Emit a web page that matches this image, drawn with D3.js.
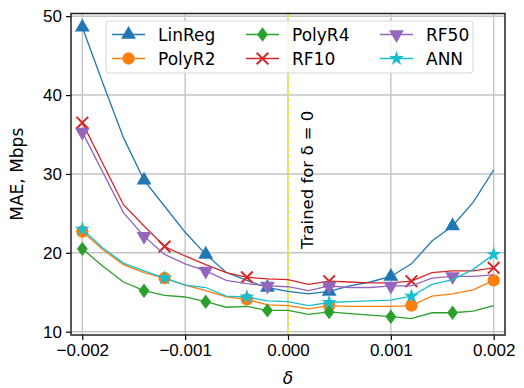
<!DOCTYPE html>
<html lang="en">
<head>
<meta charset="UTF-8" />
<title>MAE vs delta</title>
<script src="https://d3js.org/d3.v7.min.js"></script>
<style>
  * { margin: 0; padding: 0; }
  body { background: #fff; }
  svg { font-family: 'DejaVu Sans', sans-serif; display: block; }
  .grid line { stroke: #c4c4c4; stroke-width: 1.4px; }
  .tick text { font-size: 17px; fill: #000; }
</style>
</head>
<body>
<svg id="chart" width="524" height="388"></svg>
<script>
// delta values, one every 0.0002
const deltas = [-0.002, -0.0018, -0.0016, -0.0014, -0.0012, -0.001, -0.0008, -0.0006, -0.0004, -0.0002,
  0, 0.0002, 0.0004, 0.0006, 0.0008, 0.001, 0.0012, 0.0014, 0.0016, 0.0018, 0.002];

const linReg = [48.6, 41.5, 34.6, 29.2, 25.9, 22.6, 19.8, 17.5, 16.5, 15.6,
  15.1, 14.8, 15.1, 15.8, 16.3, 17.0, 18.6, 21.5, 23.4, 26.4, 30.5];
const polyR2 = [22.7, 20.4, 18.5, 17.5, 16.8, 15.9, 15.2, 14.4, 14.1, 13.4,
  13.3, 12.9, 13.3, 13.2, 13.2, 13.2, 13.3, 14.5, 14.8, 15.3, 16.5];
const polyR4 = [20.5, 18.3, 16.3, 15.2, 14.6, 14.4, 13.8, 13.1, 13.2, 12.7,
  12.7, 12.2, 12.5, 12.3, 12.1, 11.9, 11.65, 12.4, 12.4, 12.6, 13.3];
const rf10 = [36.5, 31.3, 26.1, 23.4, 20.8, 19.6, 18.5, 17.5, 16.9, 16.7,
  16.6, 16.0, 16.4, 16.3, 16.2, 16.2, 16.4, 17.5, 17.7, 17.7, 18.1];
const rf50 = [35.3, 30.2, 25.1, 22.1, 19.8, 18.6, 17.7, 16.5, 16.1, 15.8,
  15.7, 15.2, 15.8, 15.6, 15.6, 15.8, 15.8, 16.8, 17.0, 17.0, 17.2];
const ann = [23.0, 20.6, 18.7, 17.7, 16.8, 15.9, 15.6, 14.5, 14.4, 13.9,
  13.8, 13.3, 13.7, 13.8, 13.9, 14.0, 14.5, 16.0, 16.6, 17.9, 19.8];

const xTicks = [-0.002, -0.001, 0, 0.001, 0.002];
const yTicks = [10, 20, 30, 40, 50];

const series = [
  { name: 'LinReg', values: linReg, color: '#1f77b4', marker: 'up', every: 3 },
  { name: 'PolyR2', values: polyR2, color: '#ff7f0e', marker: 'circle', every: 4 },
  { name: 'PolyR4', values: polyR4, color: '#2ca02c', marker: 'diamond', every: 3 },
  { name: 'RF10', values: rf10, color: '#d62728', marker: 'x', every: 4 },
  { name: 'RF50', values: rf50, color: '#9467bd', marker: 'down', every: 3 },
  { name: 'ANN', values: ann, color: '#17becf', marker: 'star', every: 4 }
];

const svg = d3.select('#chart');
const plotL = 71, plotR = 505, plotT = 13.5, plotB = 335;

const x = d3.scaleLinear().domain([-0.00211, 0.00211]).range([plotL, plotR]);
const y = d3.scaleLinear().domain([9.58, 50.34]).range([plotB, plotT]);

const fmt = d => (d < 0 ? '\u2212' : '') + Math.abs(d).toFixed(3);

// grid
const grid = svg.append('g').attr('class', 'grid');
grid.selectAll('line.v').data(xTicks).join('line').attr('class', 'v')
  .attr('x1', d => x(d)).attr('x2', d => x(d)).attr('y1', plotT).attr('y2', plotB);
grid.selectAll('line.h').data(yTicks).join('line').attr('class', 'h')
  .attr('x1', plotL).attr('x2', plotR).attr('y1', d => y(d)).attr('y2', d => y(d));

// trained-at line
svg.append('line')
  .attr('x1', x(0)).attr('x2', x(0)).attr('y1', plotT).attr('y2', plotB)
  .attr('stroke', '#f2f200').attr('stroke-width', 1.5).attr('stroke-dasharray', '5,2');

svg.append('text')
  .attr('transform', `translate(${x(0) + 25},249) rotate(-90)`)
  .attr('font-size', 16.5).text('Trained for \u03b4 = 0');

function markerPath(type) {
  switch (type) {
    case 'up': return d3.symbol(d3.symbolTriangle, 95)();
    case 'down': return d3.symbol(d3.symbolTriangle, 95)();
    case 'circle': return d3.symbol(d3.symbolCircle, 120)();
    case 'diamond': return d3.symbol(d3.symbolDiamond, 60)();
    case 'x': return d3.symbol(d3.symbolX, 90)();
    case 'star': return d3.symbol(d3.symbolStar, 70)();
  }
}

function drawMarker(g, s, px, py) {
  let tf = `translate(${px},${py})`;
  if (s.marker === 'down') tf += ' rotate(180)';
  if (s.marker === 'diamond') tf += ' scale(1.3,1)';
  const p = g.append('path').attr('d', markerPath(s.marker)).attr('transform', tf);
  if (s.marker === 'x') {
    p.attr('fill', 'none').attr('stroke', s.color).attr('stroke-width', 2);
  } else {
    p.attr('fill', s.color);
  }
}

const line = d3.line().x((d, i) => x(deltas[i])).y(d => y(d));

series.forEach(s => {
  const g = svg.append('g');
  g.append('path').datum(s.values)
    .attr('d', line).attr('fill', 'none')
    .attr('stroke', s.color).attr('stroke-width', 1.3);
  s.values.forEach((v, i) => {
    if (i % s.every === 0) drawMarker(g, s, x(deltas[i]), y(v));
  });
});

// axes
const xAxis = d3.axisBottom(x).tickValues(xTicks).tickFormat(fmt).tickSizeInner(5).tickSizeOuter(0).tickPadding(4);
const yAxis = d3.axisLeft(y).tickValues(yTicks).tickSizeInner(5).tickSizeOuter(0).tickPadding(4);
svg.append('g').attr('transform', `translate(0,${plotB})`).call(xAxis)
  .call(g => g.select('.domain').remove());
svg.append('g').attr('transform', `translate(${plotL},0)`).call(yAxis)
  .call(g => g.select('.domain').remove());
svg.selectAll('.tick line').attr('stroke', '#000').attr('stroke-width', 1.2);

svg.append('rect')
  .attr('x', plotL).attr('y', plotT).attr('width', plotR - plotL).attr('height', plotB - plotT)
  .attr('fill', 'none').attr('stroke', '#222').attr('stroke-width', 1.5);

svg.append('text').attr('x', (plotL + plotR) / 2).attr('y', 384)
  .attr('text-anchor', 'middle').attr('font-size', 17).attr('font-style', 'italic').text('\u03b4');
svg.append('text')
  .attr('transform', `translate(23,${(plotT + plotB) / 2}) rotate(-90)`)
  .attr('text-anchor', 'middle').attr('font-size', 17).text('MAE, Mbps');

// legend
const lg = svg.append('g');
lg.append('rect').attr('x', 106).attr('y', 21).attr('width', 367).attr('height', 52)
  .attr('rx', 3).attr('fill', 'rgba(255,255,255,0.8)').attr('stroke', '#d6d6d6');
const colX = [112, 246, 380];
const rowY = [34.5, 58.5];
series.forEach((s, i) => {
  const cx = colX[Math.floor(i / 2)], cy = rowY[i % 2];
  const g = lg.append('g');
  g.append('line').attr('x1', cx).attr('x2', cx + 33).attr('y1', cy).attr('y2', cy)
    .attr('stroke', s.color).attr('stroke-width', 1.3);
  drawMarker(g, s, cx + 16.5, cy);
  g.append('text').attr('x', cx + 46).attr('y', cy + 6)
    .attr('font-size', 17).text(s.name);
});
</script>
</body>
</html>
